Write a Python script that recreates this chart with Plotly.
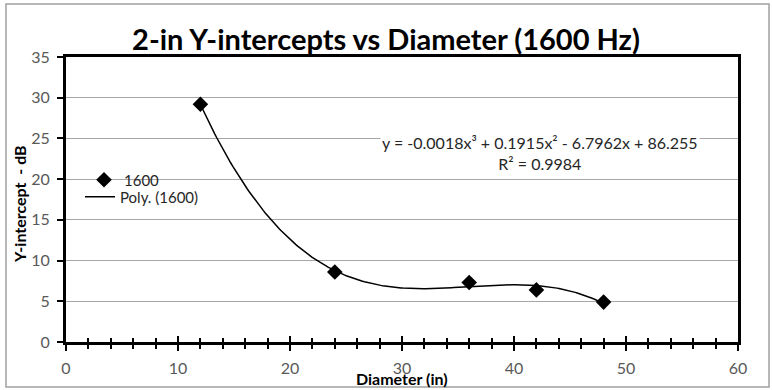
import numpy as np
import plotly.graph_objects as go

# Data
diameter = [12, 24, 36, 42, 48]
y_intercept = [29.2, 8.6, 7.3, 6.4, 4.9]
x_ticks = [0, 10, 20, 30, 40, 50, 60]
y_ticks = [0, 5, 10, 15, 20, 25, 30, 35]
title_text = "2-in Y-intercepts vs Diameter (1600 Hz)"
equation_text = "y = -0.0018x³ + 0.1915x² - 6.7962x + 86.255<br>R² = 0.9984"

# Polynomial (order 3) trendline fitted to the data, as Excel does
coef = np.polyfit(diameter, y_intercept, 3)
xs = np.linspace(min(diameter), max(diameter), 200)
ys = np.polyval(coef, xs)

FONT = "Lato"
fig = go.Figure()
fig.add_trace(go.Scatter(x=diameter, y=y_intercept, mode="markers", name="1600",
                         marker=dict(symbol="diamond", size=12, color="black"), legend="legend"))
fig.add_trace(go.Scatter(x=xs, y=ys, mode="lines", name="Poly. (1600)",
                         line=dict(color="black", width=1.5), legend="legend2"))
# overlay axis for ticks crossing the x axis
fig.add_trace(go.Scatter(x=[None], y=[None], xaxis="x2", showlegend=False))

legend_common = dict(xanchor="left", yanchor="middle",
                     font=dict(family=FONT, size=15, color="#262626"),
                     bgcolor="rgba(0,0,0,0)", itemwidth=30)

fig.update_layout(
    width=772, height=390,
    margin=dict(l=66, r=34, t=57, b=48),
    paper_bgcolor="white", plot_bgcolor="white",
    font=dict(family=FONT, size=16, color="#595959"),
    title=dict(text="<b>" + title_text + "</b>", x=0.5, xref="container", xanchor="center",
               y=1 - 40 / 390, yref="container", yanchor="middle",
               font=dict(family=FONT, size=29, color="black")),
    showlegend=True,
    legend=dict(x=(84 - 66) / 672, y=(342 - 180) / 285, **legend_common),
    legend2=dict(x=(80 - 66) / 672, y=(342 - 197) / 285, **legend_common),
    xaxis=dict(range=[0, 60], tickvals=x_ticks, showgrid=False, zeroline=False,
               showline=True, linecolor="black", linewidth=3, mirror=True,
               ticks="outside", ticklen=6, tickwidth=1.5, tickcolor="black",
               minor=dict(dtick=2, ticks="outside", ticklen=4, tickwidth=1.5, tickcolor="black"),
               ticklabelstandoff=4,
               tickfont=dict(family=FONT, size=16, color="#595959")),
    xaxis2=dict(range=[0, 60], overlaying="x", matches="x", anchor="y", side="bottom",
                tickvals=x_ticks, showgrid=False, zeroline=False, showticklabels=False,
                ticks="inside", ticklen=6, tickwidth=1.5, tickcolor="black",
                minor=dict(dtick=2, ticks="inside", ticklen=4, tickwidth=1.5, tickcolor="black")),
    yaxis=dict(range=[0, 35], tickvals=y_ticks, showgrid=True, gridcolor="#a6a6a6", gridwidth=1,
               zeroline=False, showline=True, linecolor="black", linewidth=3, mirror=True,
               ticks="outside", ticklen=6, tickwidth=1.5, tickcolor="black",
               ticklabelstandoff=4,
               tickfont=dict(family=FONT, size=16, color="#595959")),
)

# outer chart border
fig.add_shape(type="rect", xref="paper", yref="paper",
              x0=(6 - 66) / 672, x1=(769 - 66) / 672,
              y0=(342 - 387) / 285, y1=(342 - 4) / 285,
              line=dict(color="#a0a0a0", width=1.5), layer="below")

# axis titles
fig.add_annotation(text="<b>Y-intercept  - dB</b>", textangle=-90, xref="paper", yref="paper",
                   x=(19 - 66) / 672, y=(342 - 204) / 285, showarrow=False,
                   xanchor="center", yanchor="middle",
                   font=dict(family=FONT, size=16, color="black"))
fig.add_annotation(text="<b>Diameter (in)</b>", xref="paper", yref="paper",
                   x=0.5, y=(342 - 378) / 285, showarrow=False,
                   xanchor="center", yanchor="middle",
                   font=dict(family=FONT, size=16, color="black"))
# trendline equation
fig.add_annotation(text=equation_text, xref="paper", yref="paper",
                   x=(540 - 66) / 672, y=(342 - 153) / 285, showarrow=False,
                   xanchor="center", yanchor="middle", align="center",
                   bgcolor="white", font=dict(family=FONT, size=16, color="#262626"))

fig.write_html("out.html", config={"displayModeBar": False},
               post_script="document.body.style.margin='0';")
